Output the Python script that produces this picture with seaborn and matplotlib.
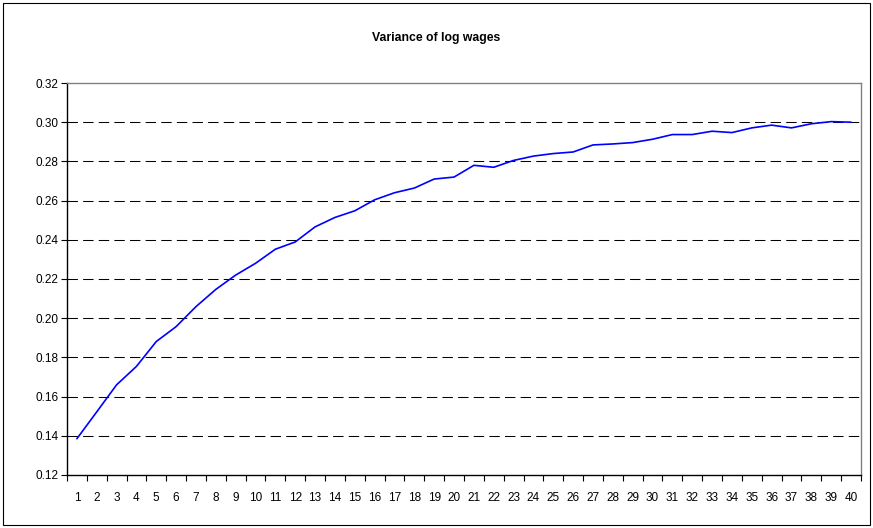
import matplotlib
matplotlib.use("Agg")
import matplotlib.pyplot as plt
from matplotlib.patches import Rectangle
from matplotlib.ticker import FixedLocator
import pandas as pd
import seaborn as sns

# data
periods = list(range(1, 41))
variance = [0.1385, 0.1522, 0.1660, 0.1754, 0.1881, 0.1957, 0.2059, 0.2147, 0.2220, 0.2280,
            0.2352, 0.2389, 0.2466, 0.2514, 0.2548, 0.2604, 0.2640, 0.2664, 0.2710, 0.2720,
            0.2780, 0.2770, 0.2805, 0.2827, 0.2840, 0.2848, 0.2884, 0.2889, 0.2896, 0.2913,
            0.2937, 0.2937, 0.2954, 0.2947, 0.2971, 0.2985, 0.2971, 0.2992, 0.3003, 0.3000]
y_ticks = [0.12, 0.14, 0.16, 0.18, 0.20, 0.22, 0.24, 0.26, 0.28, 0.30, 0.32]
title = "Variance of log wages"

df = pd.DataFrame({"period": periods, "variance": variance})

sns.set_theme(style="white")
plt.rcParams['font.family'] = ['Liberation Sans', 'DejaVu Sans']
plt.rcParams['text.color'] = 'black'
plt.rcParams['xtick.color'] = 'black'
plt.rcParams['ytick.color'] = 'black'

fig = plt.figure(figsize=(8.73, 5.28), dpi=100)
ax = fig.add_axes([0.0767, 0.1004, 0.9095, 0.7424])

sns.lineplot(data=df, x="period", y="variance", color="#0000FF", linewidth=1.2, ax=ax)

ax.set_xlim(0.5, 40.5)
ax.set_ylim(0.12, 0.32)
ax.set_yticks(y_ticks)
ax.set_yticklabels([f"{v:.2f}" for v in y_ticks], fontsize=8.5)
ax.set_xticks(periods)
ax.set_xticklabels([str(p) for p in periods], fontsize=8.5)
ax.xaxis.set_minor_locator(FixedLocator([p + 0.5 for p in [0] + periods]))
ax.tick_params(axis="x", which="major", length=0, pad=12, labelcolor="black")
ax.tick_params(axis="x", which="minor", length=4, width=0.8, color="black", direction="out", bottom=True)
ax.tick_params(axis="y", length=4, width=0.8, color="black", direction="out", left=True, pad=2,
               labelcolor="black")
ax.set_xlabel("")
ax.set_ylabel("")

# dashed horizontal gridlines
for v in y_ticks[1:-1]:
    ax.axhline(v, color="black", linewidth=0.75, dashes=(10, 5), zorder=0)

for side in ["left", "bottom"]:
    ax.spines[side].set_color("black")
    ax.spines[side].set_linewidth(1.0)
for side in ["top", "right"]:
    ax.spines[side].set_color("#808080")
    ax.spines[side].set_linewidth(1.0)

fig.text(0.5, 0.928, title, ha="center", va="center", fontsize=8.8, fontweight="bold", color="black")

# outer chart border
fig.patches.append(Rectangle((0.004, 0.006), 0.992, 0.988, transform=fig.transFigure,
                             fill=False, edgecolor="black", linewidth=0.8))

fig.savefig("out.png", dpi=100)
